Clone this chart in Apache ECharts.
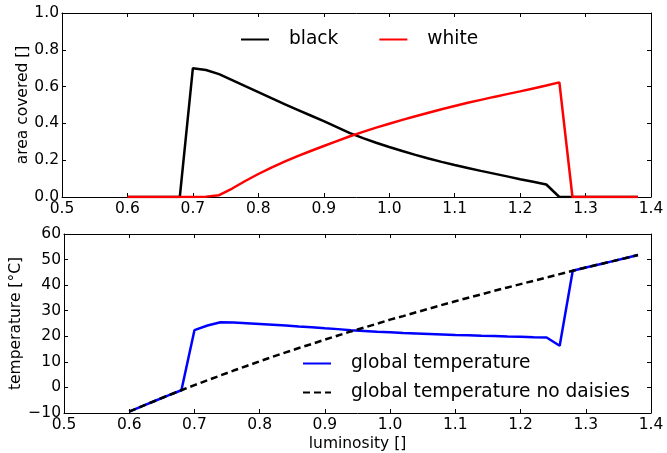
<!DOCTYPE html>
<html>
<head>
<meta charset="utf-8">
<script src="https://cdn.jsdelivr.net/npm/echarts@6/dist/echarts.min.js"></script>
<style>
html,body{margin:0;padding:0;background:#fff;}
#chart{width:667px;height:453px;}
</style>
</head>
<body>
<div id="chart"></div>
<script>
const luminosity = [0.60,0.62,0.64,0.66,0.68,0.70,0.72,0.74,0.76,0.78,0.80,0.82,0.84,0.86,0.88,0.90,0.92,0.94,0.96,0.98,1.00,1.02,1.04,1.06,1.08,1.10,1.12,1.14,1.16,1.18,1.20,1.22,1.24,1.26,1.28,1.30,1.32,1.34,1.36,1.38];
const blackArea = [0,0,0,0,0,0.700,0.690,0.668,0.635,0.602,0.570,0.537,0.505,0.474,0.443,0.412,0.380,0.347,0.320,0.295,0.272,0.250,0.229,0.209,0.191,0.174,0.158,0.142,0.127,0.112,0.097,0.083,0.068,0,0,0,0,0,0,0];
const whiteArea = [0,0,0,0,0,0,0.002,0.010,0.046,0.087,0.125,0.160,0.192,0.222,0.250,0.277,0.304,0.330,0.354,0.377,0.398,0.419,0.439,0.458,0.477,0.495,0.512,0.528,0.544,0.559,0.574,0.590,0.606,0.623,0,0,0,0,0,0];
const globalTemp = [-9.5,-7.3,-5.2,-3.1,-1.1,22.4,24.2,25.5,25.4,25.1,24.8,24.5,24.2,23.8,23.5,23.1,22.8,22.4,22.1,21.8,21.6,21.3,21.1,20.9,20.7,20.5,20.4,20.2,20.1,19.9,19.8,19.6,19.5,16.3,45.6,46.9,48.1,49.3,50.5,51.8];
const noDaisyTemp = [-9.5,-7.3,-5.2,-3.1,-1.1,0.9,2.8,4.7,6.6,8.4,10.2,12.0,13.7,15.4,17.0,18.7,20.3,21.9,23.4,24.9,26.5,27.9,29.4,30.8,32.3,33.7,35.1,36.4,37.8,39.1,40.4,41.7,43.0,44.3,45.6,46.9,48.1,49.3,50.5,51.8];
const xRange = [0.5, 1.4], xStep = 0.1;
const areaRange = [0, 1.0], areaStep = 0.2;
const tempRange = [-10, 60], tempStep = 10;

const FONT = 'DejaVu Sans';
const TICK = 15.5, LEG = 18.6;
const pair = (ys) => luminosity.map((x, i) => [x, ys[i]]);

function xAx(grid, pos, labels) {
  return {
    type: 'value', gridIndex: grid, position: pos, min: xRange[0], max: xRange[1], interval: xStep,
    axisLine: {show: true, onZero: false, lineStyle: {color: '#000', width: 1}},
    axisTick: {show: true, inside: true, length: 4, lineStyle: {color: '#000'}},
    axisLabel: {show: labels, color: '#000', fontFamily: FONT, fontSize: TICK, margin: 4,
      formatter: v => v.toFixed(1)},
    splitLine: {show: false}
  };
}
function yAx(grid, pos, rng, step, labels, fmt, name, gap) {
  return {
    type: 'value', gridIndex: grid, position: pos, min: rng[0], max: rng[1], interval: step,
    name: name || '', nameLocation: 'middle', nameGap: gap || 0, nameMoveOverlap: false,
    nameTextStyle: {color: '#000', fontFamily: FONT, fontSize: TICK},
    axisLine: {show: true, onZero: false, lineStyle: {color: '#000', width: 1}},
    axisTick: {show: true, inside: true, length: 4, lineStyle: {color: '#000'}},
    axisLabel: {show: labels, color: '#000', fontFamily: FONT, fontSize: TICK, margin: 3, formatter: fmt},
    splitLine: {show: false}
  };
}

const chart = echarts.init(document.getElementById('chart'), null, {renderer: 'canvas'});
chart.setOption({
  animation: false,
  backgroundColor: '#fff',
  grid: [
    {left: 62, right: 16, top: 13, height: 184},
    {left: 62, right: 16, top: 234, height: 183}
  ],
  xAxis: [
    xAx(0, 'bottom', true),
    xAx(0, 'top', false),
    Object.assign(xAx(1, 'bottom', true), {name: 'luminosity []', nameLocation: 'middle', nameGap: 23,
      nameTextStyle: {color: '#000', fontFamily: FONT, fontSize: TICK}}),
    xAx(1, 'top', false)
  ],
  yAxis: [
    yAx(0, 'left', areaRange, areaStep, true, v => v.toFixed(1), 'area covered []', 31),
    yAx(0, 'right', areaRange, areaStep, false, null),
    yAx(1, 'left', tempRange, tempStep, true, v => (v < 0 ? '\u2212' + Math.abs(v) : String(v)), 'temperature [\u00b0C]', 40),
    yAx(1, 'right', tempRange, tempStep, false, null)
  ],
  legend: [
    {
      data: ['black', 'white'], left: 240, top: 30, orient: 'horizontal', padding: 0,
      itemWidth: 28, itemHeight: 14, itemGap: 40,
      textStyle: {color: '#000', fontFamily: FONT, fontSize: LEG, lineHeight: 18, padding: [0, 0, 0, 15]}
    },
    {
      data: ['global temperature', 'global temperature no daisies'], left: 302, top: 354, orient: 'vertical', padding: 0,
      itemWidth: 28, itemHeight: 14, itemGap: 10,
      textStyle: {color: '#000', fontFamily: FONT, fontSize: LEG, lineHeight: 18, padding: [0, 0, 0, 15]}
    }
  ],
  series: [
    {name: 'black', type: 'line', xAxisIndex: 0, yAxisIndex: 0, data: pair(blackArea), symbol: 'none',
      lineStyle: {color: '#000', width: 2.5}, itemStyle: {color: '#000', opacity: 0}},
    {name: 'white', type: 'line', xAxisIndex: 0, yAxisIndex: 0, data: pair(whiteArea), symbol: 'none',
      lineStyle: {color: '#ff0000', width: 2.5}, itemStyle: {color: '#ff0000', opacity: 0}},
    {name: 'global temperature', type: 'line', xAxisIndex: 2, yAxisIndex: 2, data: pair(globalTemp), symbol: 'none',
      lineStyle: {color: '#0000ff', width: 2.5}, itemStyle: {color: '#0000ff', opacity: 0}},
    {name: 'global temperature no daisies', type: 'line', xAxisIndex: 2, yAxisIndex: 2, data: pair(noDaisyTemp), symbol: 'none',
      lineStyle: {color: '#000', width: 2.5, type: [7, 4]}, itemStyle: {color: '#000', opacity: 0}}
  ]
});
</script>
</body>
</html>
